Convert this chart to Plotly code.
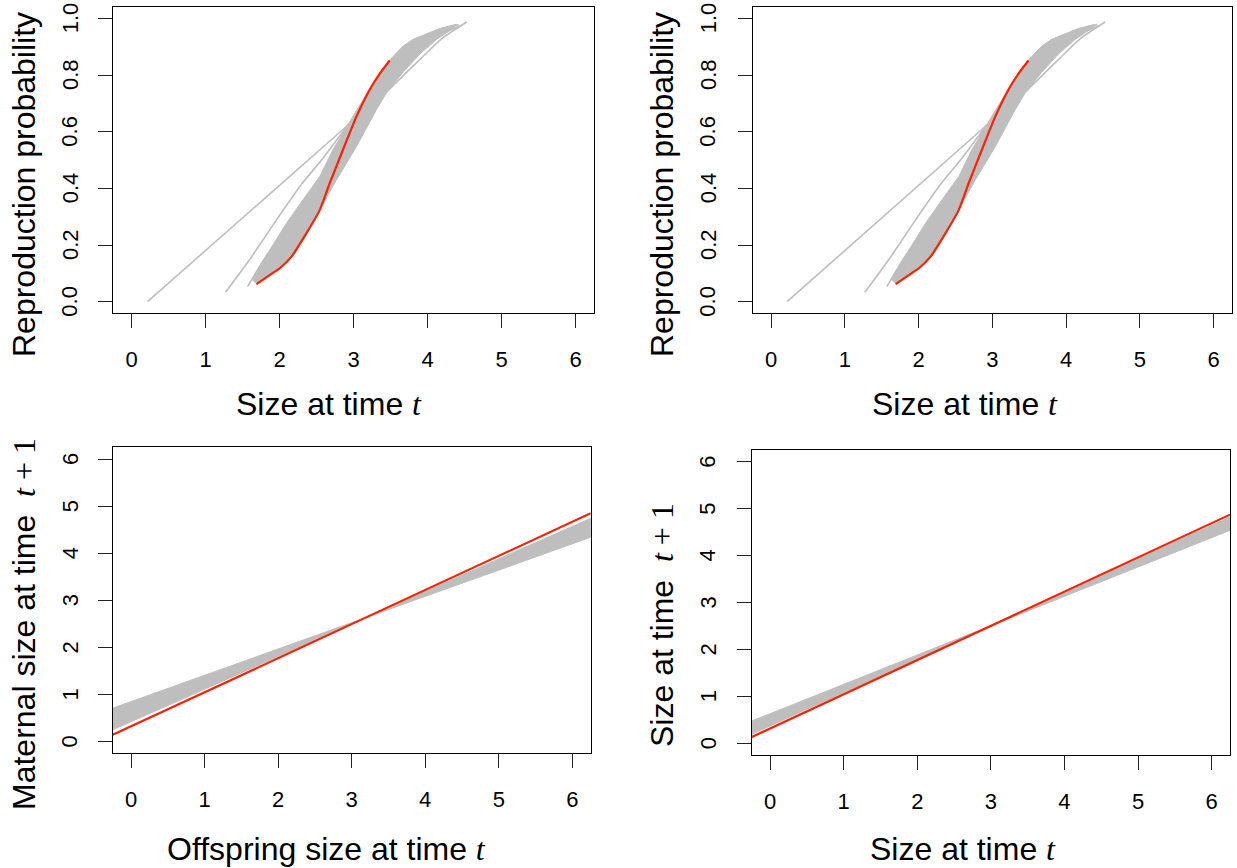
import plotly.graph_objects as go

W, H = 1237, 868

# ---------------- data ----------------
# Reproduction probability: reference (red) curve
repro_true_x = [1.689, 1.936, 2.004, 2.162, 2.365, 2.545, 2.680, 2.859, 3.041, 3.220, 3.355, 3.490]
repro_true_y = [0.062, 0.106, 0.118, 0.159, 0.242, 0.324, 0.419, 0.537, 0.654, 0.749, 0.805, 0.851]

# Envelope of the posterior curves (upper-left edge, then lower-right edge)
repro_band_upper_x = [1.640, 1.660, 1.870, 2.095, 2.319, 2.545, 2.724, 2.905, 3.040, 3.100, 3.220, 3.355,
                      3.490, 3.670, 3.805, 3.986, 4.166, 4.390]
repro_band_upper_y = [0.075, 0.095, 0.183, 0.277, 0.360, 0.442, 0.537, 0.619, 0.675, 0.700, 0.752, 0.807,
                      0.853, 0.902, 0.926, 0.946, 0.964, 0.979]
repro_band_lower_x = [4.350, 4.120, 3.900, 3.670, 3.446, 3.311, 3.041, 2.770, 2.545, 2.365, 2.162, 2.004,
                      1.936, 1.689]
repro_band_lower_y = [0.966, 0.925, 0.875, 0.810, 0.737, 0.678, 0.548, 0.430, 0.324, 0.242, 0.159, 0.118,
                      0.106, 0.062]

# Individual posterior curves that stand apart from the envelope
repro_draws = [
    ([0.216, 2.880, 2.950], [0.000, 0.613, 0.630]),
    ([1.270, 1.600, 1.950, 2.300, 2.568, 2.900], [0.033, 0.150, 0.285, 0.415, 0.500, 0.615]),
    ([1.568, 1.700, 1.840], [0.053, 0.110, 0.170]),
    ([3.450, 3.700, 3.950, 4.200, 4.530], [0.740, 0.805, 0.868, 0.930, 0.987]),
    ([3.600, 3.900, 4.200, 4.450], [0.800, 0.885, 0.945, 0.975]),
    ([3.700, 4.000, 4.250, 4.420], [0.850, 0.920, 0.960, 0.978]),
]

# Growth / inheritance lines (values at the left and right ends of the x range)
line_x = [-0.25, 6.25]
inherit_true_y = [0.142, 4.849]
inherit_band_a_y = [0.709, 4.340]
inherit_band_b_y = [0.248, 4.743]
growth_true_y = [0.134, 4.872]
growth_band_a_y = [0.474, 4.538]
growth_band_b_y = [0.191, 4.823]

prob_ticks = [0, 0.2, 0.4, 0.6, 0.8, 1.0]
prob_labels = ["0.0", "0.2", "0.4", "0.6", "0.8", "1.0"]
size_ticks = [0, 1, 2, 3, 4, 5, 6]
size_labels = ["0", "1", "2", "3", "4", "5", "6"]

# ---------------- styling ----------------
GRAY = "#BEBEBE"
RED = "#FF2000"
SANS = "Liberation Sans"
SERIF = "Liberation Serif"
TICK_SIZE = 22
TICK_FONT = dict(family=SANS, size=TICK_SIZE, color="black")
TITLE_SIZE = 32

def px_x(p):
    return p / W

def px_y(p):
    return 1 - p / H

panels = {
    # name: (left, right, top, bottom, y-label centre x) in pixels
    "tl": (113, 594, 7, 313, 70),
    "tr": (752.7, 1232, 7, 313, 708),
    "bl": (112.7, 590.7, 447.3, 753.3, 70),
    "br": (751.7, 1230, 450, 755, 708),
}

fig = go.Figure()

def axis_common():
    return dict(
        showline=True, mirror=True, linecolor="black", linewidth=1.3,
        ticks="outside", ticklen=14, tickwidth=1.3, tickcolor="#222",
        showgrid=False, zeroline=False, tickfont=TICK_FONT,
        ticklabelstandoff=12, automargin=False, fixedrange=True,
    )

axes_keys = [("tl", "x", "y"), ("tr", "x2", "y2"), ("bl", "x3", "y3"), ("br", "x4", "y4")]
for name, xa, ya in axes_keys:
    l, r, t, b, lab_x = panels[name]
    xk = "xaxis" + xa[1:]
    yk = "yaxis" + ya[1:]
    xcfg = axis_common()
    xcfg.update(domain=[px_x(l), px_x(r)], anchor=ya, range=[-0.25, 6.25],
                tickvals=size_ticks, ticktext=size_labels)
    ycfg = axis_common()
    ycfg.update(domain=[px_y(b), px_y(t)], anchor=xa, showticklabels=False)
    if name in ("tl", "tr"):
        ycfg.update(range=[-0.04, 1.04], tickvals=prob_ticks)
        vals, labels = prob_ticks, prob_labels
    else:
        ycfg.update(range=[-0.25, 6.25], tickvals=size_ticks)
        vals, labels = size_ticks, size_labels
    fig.update_layout(**{xk: xcfg, yk: ycfg})
    # y tick labels, written parallel to the axis
    for v, lab in zip(vals, labels):
        fig.add_annotation(text=lab, x=px_x(lab_x), xref="paper", y=v, yref=ya,
                           showarrow=False, textangle=-90, xanchor="center", yanchor="middle",
                           font=TICK_FONT)

# ---- reproduction panels ----
for xa, ya in [("x", "y"), ("x2", "y2")]:
    fig.add_trace(go.Scatter(
        x=repro_band_upper_x + repro_band_lower_x,
        y=repro_band_upper_y + repro_band_lower_y,
        fill="toself", fillcolor=GRAY, mode="lines",
        line=dict(color=GRAY, width=1), xaxis=xa, yaxis=ya, hoverinfo="skip"))
    for dx, dy in repro_draws:
        fig.add_trace(go.Scatter(x=dx, y=dy, mode="lines",
                                 line=dict(color=GRAY, width=1.6, shape="spline", smoothing=0.5),
                                 xaxis=xa, yaxis=ya, hoverinfo="skip"))
    fig.add_trace(go.Scatter(x=repro_true_x, y=repro_true_y, mode="lines",
                             line=dict(color=RED, width=2.2, shape="spline", smoothing=0.6),
                             xaxis=xa, yaxis=ya))

# ---- linear panels ----
for (xa, ya), true_y, a_y, b_y in [
        (("x3", "y3"), inherit_true_y, inherit_band_a_y, inherit_band_b_y),
        (("x4", "y4"), growth_true_y, growth_band_a_y, growth_band_b_y)]:
    fig.add_trace(go.Scatter(
        x=[line_x[0], line_x[1], line_x[1], line_x[0], line_x[0]],
        y=[a_y[0], a_y[1], b_y[1], b_y[0], a_y[0]],
        fill="toself", fillcolor=GRAY, mode="lines",
        line=dict(color=GRAY, width=1), xaxis=xa, yaxis=ya, hoverinfo="skip"))
    fig.add_trace(go.Scatter(x=line_x, y=true_y, mode="lines",
                             line=dict(color=RED, width=2.2), xaxis=xa, yaxis=ya))

# ---------------- axis titles ----------------
def math(s):
    return "<span style='font-family:%s'>%s</span>" % (SERIF, s)

titles = [
    # text, x px, y px, angle
    ("Size at time " + math("<i>t</i>"), 329, 404, 0),
    ("Size at time " + math("<i>t</i>"), 965, 404, 0),
    ("Offspring size at time " + math("<i>t</i>"), 326, 849, 0),
    ("Size at time " + math("<i>t</i>"), 963, 849, 0),
    ("Reproduction probability", 24, 185, -90),
    ("Reproduction probability", 662, 185, -90),
    ("Maternal size at time  " + math("<i>t</i> + 1"), 24, 624, -90),
    ("Size at time  " + math("<i>t</i> + 1"), 662, 625, -90),
]
for text, x, y, ang in titles:
    fig.add_annotation(text=text, x=px_x(x), y=px_y(y), xref="paper", yref="paper",
                       showarrow=False, textangle=ang, xanchor="center", yanchor="middle",
                       font=dict(family=SANS, size=TITLE_SIZE, color="black"))

fig.update_layout(
    width=W, height=H, autosize=False,
    margin=dict(l=0, r=0, t=0, b=0, autoexpand=False),
    paper_bgcolor="white", plot_bgcolor="white",
    showlegend=False,
)

fig.write_html("out.html")
